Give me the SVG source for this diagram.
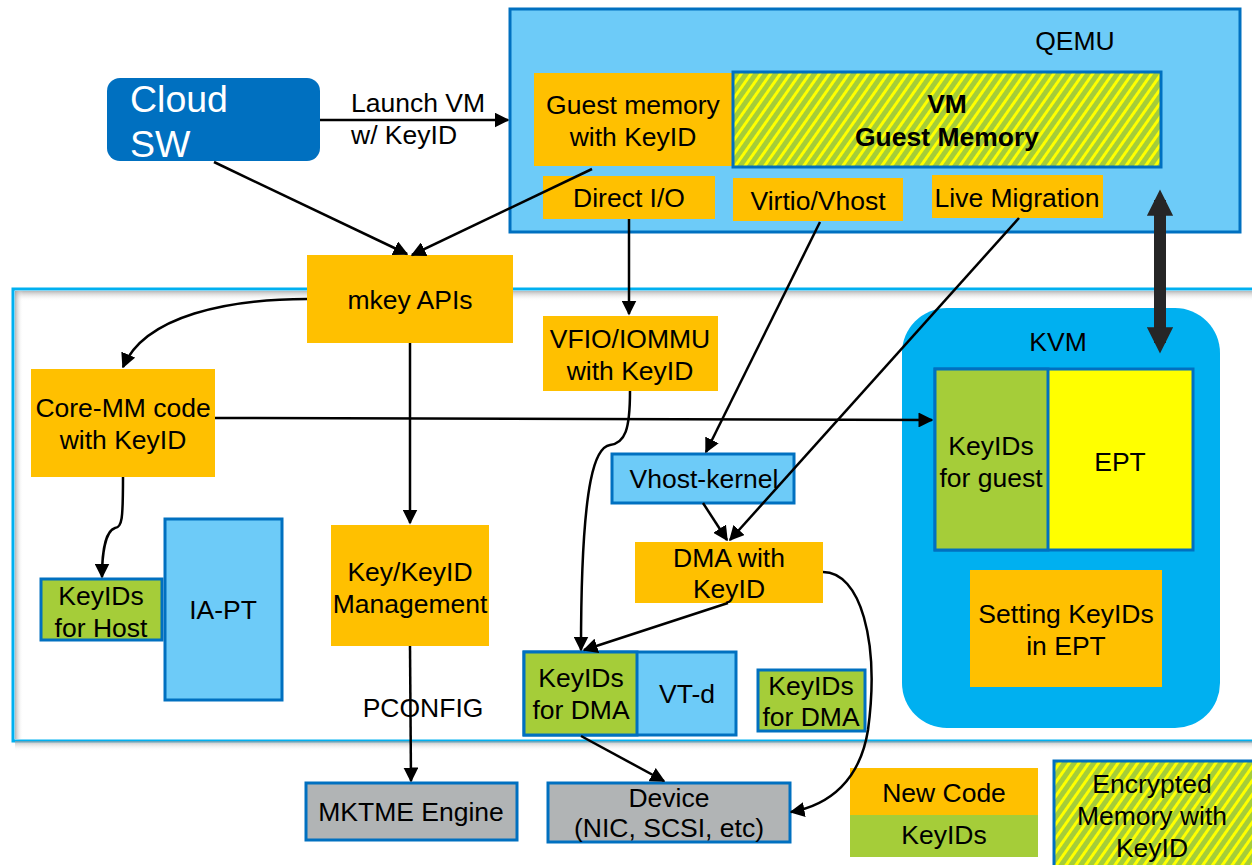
<svg xmlns="http://www.w3.org/2000/svg" width="1252" height="865" viewBox="0 0 1252 865">
<style>
text{font-family:"Liberation Sans",Arial,sans-serif;fill:#000;text-anchor:middle}
.t22{font-size:26.5px}
.org{fill:#FFC000}
.grn{fill:#A5CD39}
.lb{fill:#6DCBF8}
.bs{stroke:#0070C0;stroke-width:3}
.gry{fill:#B1B4B5}
.c{fill:none;stroke:#000;stroke-width:2.5}
</style>
<defs>
<marker id="ah" viewBox="0 0 10 10" refX="9" refY="5" markerWidth="6" markerHeight="6" markerUnits="strokeWidth" orient="auto">
<path d="M0,0 L10,5 L0,10 z" fill="#000"/>
</marker>
<marker id="th" viewBox="0 0 10 10" refX="6" refY="5" markerWidth="2.2" markerHeight="2.2" markerUnits="strokeWidth" orient="auto-start-reverse">
<path d="M0,0 L10,5 L0,10 z" fill="#262626"/>
</marker>
<pattern id="hatch" width="8" height="8" patternUnits="userSpaceOnUse" patternTransform="rotate(35)">
<rect width="8" height="8" fill="#A5CD39"/>
<rect width="3" height="8" fill="#FFFF00"/>
</pattern>
<linearGradient id="shT" x1="0" y1="0" x2="0" y2="1">
<stop offset="0" stop-color="#999" stop-opacity="0.7"/>
<stop offset="1" stop-color="#fff" stop-opacity="0"/>
</linearGradient>
<linearGradient id="shL" x1="0" y1="0" x2="1" y2="0">
<stop offset="0" stop-color="#999" stop-opacity="0.7"/>
<stop offset="1" stop-color="#fff" stop-opacity="0"/>
</linearGradient>
</defs>
<rect width="1252" height="865" fill="#fff"/>

<g id="host">
<rect x="13" y="289" width="1250" height="452" fill="#fff" stroke="#00B0F0" stroke-width="3"/>
<rect x="15" y="291" width="1240" height="10" fill="url(#shT)"/>
<rect x="15" y="291" width="8" height="448" fill="url(#shL)"/>
<rect x="15" y="741" width="1240" height="10" fill="url(#shT)"/>
</g>

<g id="qemu">
<rect x="510" y="9" width="730" height="223" class="lb bs"/>
<text x="1075" y="50" class="t22">QEMU</text>
</g>
<g id="guest-mem">
<rect x="534" y="73" width="199" height="93" class="org"/>
<text x="633" y="114" class="t22">Guest memory</text>
<text x="633" y="146" class="t22">with KeyID</text>
</g>
<g id="vm-guest">
<rect x="733" y="72" width="428" height="95" fill="url(#hatch)" class="bs"/>
<text x="947" y="113" class="t22" font-weight="bold">VM</text>
<text x="947" y="146" class="t22" font-weight="bold">Guest Memory</text>
</g>
<g id="direct-io"><rect x="543" y="176" width="172" height="43" class="org"/><text x="629" y="207" class="t22">Direct I/O</text></g>
<g id="virtio"><rect x="733" y="178" width="170" height="43" class="org"/><text x="818" y="210" class="t22">Virtio/Vhost</text></g>
<g id="live-mig"><rect x="932" y="175" width="171" height="43" class="org"/><text x="1017" y="207" class="t22">Live Migration</text></g>

<g id="cloud-sw">
<rect x="107" y="78" width="213" height="83" rx="13" fill="#0070C0"/>
<text x="130" y="112" font-size="37.5" style="fill:#fff;text-anchor:start">Cloud</text>
<text x="130" y="157" font-size="37.5" style="fill:#fff;text-anchor:start">SW</text>
</g>

<g id="mkey"><rect x="307" y="255" width="206" height="88" class="org"/><text x="410" y="309" class="t22">mkey APIs</text></g>
<g id="core-mm"><rect x="31" y="369" width="184" height="108" class="org"/><text x="123" y="417" class="t22">Core-MM code</text><text x="123" y="449" class="t22">with KeyID</text></g>
<g id="ia-pt"><rect x="165" y="519" width="117" height="181" class="lb bs"/><text x="223" y="619" class="t22">IA-PT</text></g>
<g id="keyids-host"><rect x="41" y="579" width="121" height="61" class="grn bs"/><text x="101" y="605" class="t22">KeyIDs</text><text x="101" y="637" class="t22">for Host</text></g>
<g id="keymgmt"><rect x="331" y="525" width="158" height="121" class="org"/><text x="410" y="581" class="t22">Key/KeyID</text><text x="410" y="613" class="t22">Management</text></g>
<g id="vfio"><rect x="543" y="316" width="175" height="75" class="org"/><text x="630" y="348" class="t22">VFIO/IOMMU</text><text x="630" y="380" class="t22">with KeyID</text></g>
<g id="vhost-kernel"><rect x="612" y="454" width="182" height="49" class="lb bs"/><text x="704" y="488" class="t22">Vhost-kernel</text></g>
<g id="dma"><rect x="635" y="542" width="188" height="61" class="org"/><text x="729" y="567" class="t22">DMA with</text><text x="729" y="598" class="t22">KeyID</text></g>
<g id="vtd">
<rect x="524" y="652" width="212" height="83" class="lb bs"/>
<rect x="524" y="652" width="113" height="83" class="grn bs"/>
<text x="581" y="687" class="t22">KeyIDs</text><text x="581" y="719" class="t22">for DMA</text>
<text x="687" y="703" class="t22">VT-d</text>
</g>
<g id="keyids-dma2"><rect x="758" y="670" width="107" height="61" class="grn bs"/><text x="811" y="695" class="t22">KeyIDs</text><text x="811" y="726" class="t22">for DMA</text></g>

<g id="kvm">
<rect x="902" y="308" width="318" height="420" rx="45" fill="#00B0F0"/>
<text x="1058" y="351" class="t22">KVM</text>
<rect x="935" y="369" width="258" height="181" fill="#FFFF00" class="bs"/>
<rect x="935" y="369" width="113" height="181" class="grn bs"/>
<text x="991" y="455" class="t22">KeyIDs</text><text x="991" y="487" class="t22">for guest</text>
<text x="1120" y="471" class="t22">EPT</text>
<rect x="970" y="570" width="192" height="117" class="org"/>
<text x="1066" y="623" class="t22">Setting KeyIDs</text><text x="1066" y="655" class="t22">in EPT</text>
</g>

<g id="mktme"><rect x="306" y="783" width="211" height="57" class="gry bs"/><text x="411" y="821" class="t22">MKTME Engine</text></g>
<g id="device"><rect x="548" y="783" width="242" height="59" class="gry bs"/><text x="669" y="807" class="t22">Device</text><text x="669" y="837" class="t22">(NIC, SCSI, etc)</text></g>

<g id="legend">
<rect x="850" y="768" width="188" height="47" class="org"/><text x="944" y="802" class="t22">New Code</text>
<rect x="850" y="815" width="188" height="42" class="grn"/><text x="944" y="844" class="t22">KeyIDs</text>
<rect x="1054" y="761" width="200" height="106" fill="url(#hatch)" class="bs"/>
<text x="1152" y="793" class="t22">Encrypted</text><text x="1152" y="825" class="t22">Memory with</text><text x="1152" y="857" class="t22">KeyID</text>
</g>

<g id="connectors">
<line x1="320" y1="120" x2="508" y2="120" class="c" marker-end="url(#ah)"/>
<text x="351" y="112" class="t22" style="text-anchor:start">Launch VM</text>
<text x="351" y="144" class="t22" style="text-anchor:start">w/ KeyID</text>
<line x1="214" y1="162" x2="407" y2="254" class="c" marker-end="url(#ah)"/>
<line x1="592" y1="169" x2="412" y2="255" class="c" marker-end="url(#ah)"/>
<path d="M307,299 C230,299 145,315 123,367" class="c" marker-end="url(#ah)"/>
<line x1="410" y1="343" x2="410" y2="523" class="c" marker-end="url(#ah)"/>
<line x1="215" y1="418" x2="932" y2="420" class="c" marker-end="url(#ah)"/>
<path d="M123,477 C123,520 122,527 115,528 C105,531 102,555 102,577" class="c" marker-end="url(#ah)"/>
<line x1="410" y1="646" x2="411" y2="781" class="c" marker-end="url(#ah)"/>
<text x="423" y="717" class="t22">PCONFIG</text>
<line x1="629" y1="219" x2="629" y2="314" class="c" marker-end="url(#ah)"/>
<path d="M630,391 C630,430 625,443 610,445 C597,447 581,470 581,650" class="c" marker-end="url(#ah)"/>
<line x1="820" y1="222" x2="706" y2="452" class="c" marker-end="url(#ah)"/>
<line x1="1019" y1="218" x2="730" y2="540" class="c" marker-end="url(#ah)"/>
<line x1="703" y1="503" x2="727" y2="540" class="c" marker-end="url(#ah)"/>
<line x1="728" y1="603" x2="584" y2="650" class="c" marker-end="url(#ah)"/>
<path d="M823,572 C860,572 880,640 868,730 C860,780 830,805 791,812" class="c" marker-end="url(#ah)"/>
<line x1="581" y1="736" x2="664" y2="781" class="c" marker-end="url(#ah)"/>
<line x1="1160" y1="200" x2="1160" y2="343" stroke="#262626" stroke-width="12" marker-start="url(#th)" marker-end="url(#th)"/>
</g>
</svg>
